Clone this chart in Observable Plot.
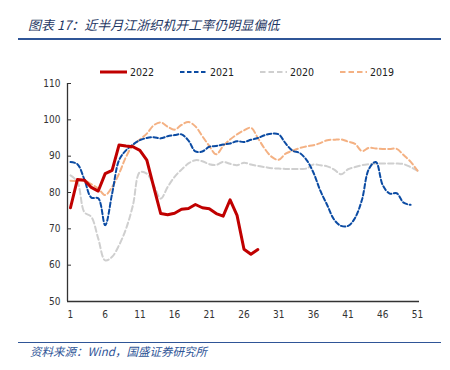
<!DOCTYPE html>
<html><head><meta charset="utf-8">
<script src="https://cdn.jsdelivr.net/npm/d3@7"></script>
<script src="https://cdn.jsdelivr.net/npm/@observablehq/plot@0.6"></script>
<style>
body{margin:0;background:#fff;}
#wrap{position:relative;width:450px;height:370px;overflow:hidden;font-family:"DejaVu Sans Condensed","DejaVu Sans",sans-serif;}
#title{position:absolute;left:28px;top:16px;font-family:"Noto Sans CJK SC";font-style:italic;font-size:13px;color:#1f3864;white-space:nowrap;line-height:18px;}
#tline{position:absolute;left:18px;top:38px;width:423px;height:2px;background:#2f5597;}
#bline{position:absolute;left:18px;top:342px;width:423px;height:1.3px;background:#2f5597;}
#src{position:absolute;left:30px;top:343px;font-family:"Noto Sans CJK SC";font-style:italic;font-size:11.5px;color:#2f5597;white-space:nowrap;line-height:16px;}
#pct{position:absolute;left:46px;top:57px;font-size:10px;color:#333;}
#chart{position:absolute;left:0;top:45px;}
.leg{position:absolute;top:65px;height:14px;display:flex;align-items:center;font-size:10.5px;color:#222;}
.leg svg{margin-right:3px;}
</style></head>
<body><div id="wrap">
<div id="title">图表 17：近半月江浙织机开工率仍明显偏低</div>
<div id="tline"></div>
<div id="pct">%</div>
<div id="chart"></div>
<div id="bline"></div>
<div id="src">资料来源：Wind，国盛证券研究所</div>
</div>
<script>
const seriesNames = ["2022", "2021", "2020", "2019"];
const xTicks = [1, 6, 11, 16, 21, 26, 31, 36, 41, 46, 51];
const yTicks = [50, 60, 70, 80, 90, 100, 110];

const s2022 = [75.8, 83.6, 83.4, 81.4, 80.4, 85.2, 86.1, 93.1, 92.8, 92.6, 91.6, 88.9, 81.5, 74.2, 73.9, 74.3, 75.4, 75.6, 76.7, 75.8, 75.5, 74.2, 73.5, 78.0, 73.7, 64.4, 63.0, 64.3];
const s2021 = [88.4, 87.8, 83.6, 78.6, 78.4, 71.0, 79.7, 88.9, 91.6, 93.2, 94.4, 95.0, 95.2, 94.9, 95.5, 95.8, 96.0, 94.3, 91.3, 91.3, 92.6, 92.8, 93.2, 93.5, 94.1, 93.9, 94.5, 95.0, 95.8, 96.2, 96.0, 93.5, 91.5, 90.9, 89.0, 85.5, 80.5, 76.5, 72.5, 70.8, 70.8, 73.0, 78.0, 86.5, 88.4, 82.0, 79.7, 79.8, 77.2, 76.6];
const s2020 = [84.7, 82.9, 74.6, 73.3, 67.3, 61.3, 62.3, 65.5, 70.0, 76.5, 85.6, 85.2, 82.0, 78.3, 81.5, 84.3, 86.3, 88.0, 88.9, 88.6, 87.8, 87.6, 88.4, 87.9, 87.5, 88.2, 87.7, 87.3, 87.0, 86.7, 86.6, 86.5, 86.5, 86.5, 86.6, 87.7, 87.5, 87.2, 86.3, 85.0, 86.4, 87.0, 87.5, 87.8, 88.0, 88.0, 88.0, 88.0, 87.8, 87.0, 86.0];
const s2019 = [83.2, 83.2, 83.3, 82.3, 81.1, 79.3, 81.5, 85.2, 89.8, 93.0, 94.6, 96.2, 98.5, 99.3, 98.1, 97.3, 98.6, 99.4, 98.2, 95.5, 92.8, 90.5, 92.8, 94.6, 96.0, 97.1, 97.8, 95.0, 92.0, 89.8, 89.0, 90.7, 91.5, 92.2, 92.7, 93.0, 93.6, 94.4, 94.5, 94.6, 94.0, 93.4, 91.4, 92.3, 92.1, 92.0, 92.0, 92.0, 90.3, 88.5, 86.0];

const seriesValues = [s2022, s2021, s2020, s2019];
const styles = {
  "2022": {stroke: "#c00000", strokeWidth: 3, dash: null, curve: "linear"},
  "2021": {stroke: "#0b4ba3", strokeWidth: 2, dash: "4.5,2.5", curve: "catmull-rom"},
  "2020": {stroke: "#cfcfcf", strokeWidth: 2, dash: "5.5,3", curve: "catmull-rom"},
  "2019": {stroke: "#f4b183", strokeWidth: 2, dash: "5.5,3", curve: "catmull-rom"}
};

const rows = [];
seriesNames.forEach((name, i) => seriesValues[i].forEach((v, j) => rows.push({week: j + 1, value: v, year: name})));

const xDomain = [0.57, 51.29];
const yDomain = [50, 110];
const drawOrder = ["2020", "2019", "2021", "2022"];

const lineMarks = drawOrder.map(name => {
  const s = styles[name];
  return Plot.line(rows.filter(d => d.year === name), {
    x: "week", y: "value", stroke: s.stroke, strokeWidth: s.strokeWidth,
    strokeDasharray: s.dash, curve: s.curve, strokeLinejoin: "round"
  });
});

const chart = Plot.plot({
  width: 450, height: 290,
  marginTop: 38, marginBottom: 34, marginLeft: 67, marginRight: 31,
  x: {domain: xDomain},
  y: {domain: yDomain},
  style: {fontFamily: '"DejaVu Sans Condensed","DejaVu Sans",sans-serif', fontSize: "10px", color: "#333", background: "white"},
  marks: [
    ...lineMarks,
    Plot.ruleX([xDomain[0]], {stroke: "#333", strokeWidth: 1.3}),
    Plot.ruleY([yDomain[0]], {stroke: "#333", strokeWidth: 1.3}),
    Plot.axisY({ticks: yTicks, tickSize: -4, text: null, label: null, stroke: "#333"}),
    Plot.axisY({ticks: yTicks, tickSize: 0, tickPadding: 7, label: null}),
    Plot.axisX({ticks: xTicks, tickSize: 0, tickPadding: 9, label: null})
  ]
});
document.getElementById("chart").appendChild(chart);

// legend
const legX = [100, 180, 260, 340];
seriesNames.forEach((name, i) => {
  const s = styles[name];
  const div = document.createElement("div");
  div.className = "leg";
  div.style.left = legX[i] + "px";
  div.innerHTML = `<svg width="27" height="6"><line x1="0" y1="3" x2="27" y2="3" stroke="${s.stroke}" stroke-width="${s.strokeWidth}" ${s.dash ? `stroke-dasharray="${s.dash}"` : ""}/></svg><span>${name}</span>`;
  document.getElementById("wrap").appendChild(div);
});
</script>
</body></html>
